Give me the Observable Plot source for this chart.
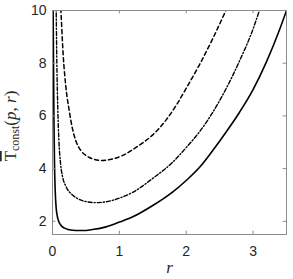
<!DOCTYPE html>
<html>
<head>
<meta charset="utf-8">
<script src="https://cdn.jsdelivr.net/npm/d3@7"></script>
<script src="https://cdn.jsdelivr.net/npm/@observablehq/plot@0.6"></script>
<style>
  html, body { margin: 0; padding: 0; background: #fff; }
</style>
</head>
<body>
<div id="chart"></div>
<script>
// Solid curve
const rSolid = [0.008, 0.015, 0.022, 0.03, 0.04, 0.055, 0.08, 0.12, 0.18, 0.25, 0.35, 0.45, 0.6, 0.8, 1.0, 1.2, 1.5, 1.8, 2.0, 2.2, 2.4, 2.6, 2.8, 3.0, 3.2, 3.4, 3.5];
const tSolid = [10.5, 8.0, 5.8, 4.2, 3.2, 2.5, 2.1, 1.87, 1.74, 1.68, 1.65, 1.65, 1.69, 1.79, 1.97, 2.17, 2.6, 3.12, 3.55, 4.05, 4.7, 5.4, 6.15, 7.0, 8.05, 9.3, 10.0];
// Dash-dot curve
const rDashDot = [0.05, 0.055, 0.065, 0.08, 0.095, 0.12, 0.15, 0.2, 0.3, 0.4, 0.5, 0.65, 0.8, 1.0, 1.2, 1.5, 1.8, 2.0, 2.2, 2.4, 2.6, 2.8, 3.0, 3.12];
const tDashDot = [10.6, 10.0, 8.0, 6.2, 5.1, 4.2, 3.7, 3.33, 3.0, 2.83, 2.75, 2.71, 2.74, 2.88, 3.1, 3.63, 4.25, 4.8, 5.4, 6.15, 7.05, 8.1, 9.3, 10.2];
// Dashed curve
const rDashed = [0.11, 0.125, 0.16, 0.2, 0.25, 0.3, 0.35, 0.42, 0.5, 0.6, 0.75, 0.9, 1.05, 1.2, 1.35, 1.5, 1.7, 1.85, 2.0, 2.2, 2.4, 2.62];
const tDashed = [10.6, 10.0, 8.3, 7.1, 6.2, 5.5, 5.05, 4.7, 4.5, 4.37, 4.31, 4.37, 4.5, 4.72, 4.98, 5.28, 5.85, 6.4, 7.05, 7.95, 8.95, 10.15];

const xTicks = [0, 1, 2, 3];
const yTicks = [2, 4, 6, 8, 10];

const toRows = (rs, ts) => rs.map((r, i) => ({r, t: ts[i]}));
const solid = toRows(rSolid, tSolid);
const dashDot = toRows(rDashDot, tDashDot);
const dashed = toRows(rDashed, tDashed);

const xDom = [0, 3.5], yDom = [1.5, 10];
const tickLenX = 0.13, tickLenY = 0.05;
const axisGray = "#8c8c8c";

const plot = Plot.plot({
  width: 293,
  height: 279,
  marginLeft: 52,
  marginRight: 7,
  marginTop: 10,
  marginBottom: 45,
  x: {domain: xDom},
  y: {domain: yDom},
  style: {fontFamily: "'Liberation Sans', Arial, sans-serif", fontSize: "14px", color: "#262626", background: "#fff"},
  marks: [
    Plot.line(solid, {x: "r", y: "t", stroke: "black", strokeWidth: 1.6, curve: "monotone-x", clip: true}),
    Plot.line(dashDot, {x: "r", y: "t", stroke: "black", strokeWidth: 1.4, strokeDasharray: "4,2,1.2,2", curve: "monotone-x", clip: true}),
    Plot.line(dashed, {x: "r", y: "t", stroke: "black", strokeWidth: 1.5, strokeDasharray: "4,3", curve: "monotone-x", clip: true}),
    Plot.ruleX(xTicks, {x: d => d, y1: yDom[0], y2: yDom[0] + tickLenX, stroke: axisGray}),
    Plot.ruleX(xTicks, {x: d => d, y1: yDom[1], y2: yDom[1] - tickLenX, stroke: axisGray}),
    Plot.ruleY(yTicks, {y: d => d, x1: xDom[0], x2: xDom[0] + tickLenY, stroke: axisGray}),
    Plot.ruleY(yTicks, {y: d => d, x1: xDom[1], x2: xDom[1] - tickLenY, stroke: axisGray}),
    Plot.frame({stroke: axisGray}),
    Plot.axisX(xTicks, {tickSize: 0, tickPadding: 12, label: null}),
    Plot.axisY(yTicks, {tickSize: 0, tickPadding: 6, label: null}),
    Plot.text(["r"], {frameAnchor: "bottom", dy: 38, text: d => d, fontStyle: "italic", fontFamily: "'Liberation Serif', 'DejaVu Serif', serif", fontSize: 17, fill: "#262626"})
  ]
});

document.getElementById("chart").appendChild(plot);

// Y-axis label: T̄_const(p, r)
const svg = d3.select(plot);
const yl = svg.append("text")
  .attr("transform", "translate(16,126) rotate(-90)")
  .attr("text-anchor", "middle")
  .attr("fill", "#262626")
  .style("font-family", "'Liberation Serif', 'DejaVu Serif', serif")
  .style("font-size", "17px");
yl.append("tspan").style("text-decoration", "overline").text("T");
yl.append("tspan").attr("dy", 3).style("font-size", "12px").text("const");
yl.append("tspan").attr("dy", -3).text("(");
yl.append("tspan").style("font-style", "italic").text("p");
yl.append("tspan").text(", ");
yl.append("tspan").style("font-style", "italic").text("r");
yl.append("tspan").text(")");
</script>
</body>
</html>
